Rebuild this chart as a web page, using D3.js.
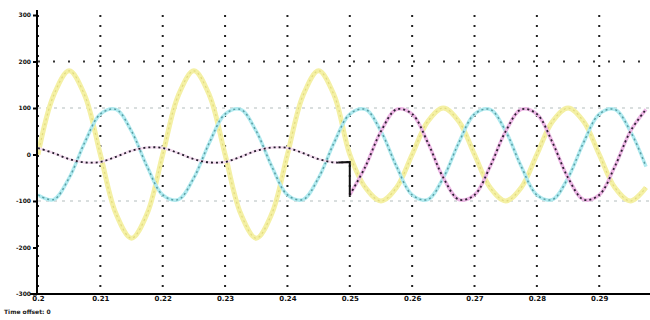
<!DOCTYPE html>
<html>
<head>
<meta charset="utf-8">
<script src="https://cdn.jsdelivr.net/npm/d3@7"></script>
<style>
  body { margin: 0; background: #fff; }
  svg { display: block; }
  .tick text { font-family: "DejaVu Sans", sans-serif; font-weight: bold; fill: #111; }
</style>
</head>
<body>
<div id="chart"></div>
<script>
// sample times (s)
const times = [0.2, 0.2025, 0.205, 0.2075, 0.21, 0.2125, 0.215, 0.2175, 0.22, 0.2225,
               0.225, 0.2275, 0.23, 0.2325, 0.235, 0.2375, 0.24, 0.2425, 0.245, 0.2475,
               0.25, 0.2525, 0.255, 0.2575, 0.26, 0.2625, 0.265, 0.2675, 0.27, 0.2725,
               0.275, 0.2775, 0.28, 0.2825, 0.285, 0.2875, 0.29, 0.2925, 0.295, 0.2975];

const yellow = [0, 127, 180, 127, 0, -127, -180, -127, 0, 127, 180, 127, 0, -127, -180, -127,
                0, 127, 180, 127, 0, -71, -100, -71, 0, 71, 100, 71, 0, -71, -100, -71,
                0, 71, 100, 71, 0, -71, -100, -71];
const cyan = [-87, -97, -50, 26, 87, 97, 50, -26, -87, -97, -50, 26, 87, 97, 50, -26,
              -87, -97, -50, 26, 87, 97, 50, -26, -87, -97, -50, 26, 87, 97, 50, -26,
              -87, -97, -50, 26, 87, 97, 50, -26];
// dark phase: small before the switch at 0.25 s, full after
const darkPre = [14, 3, -10, -17, -16, -5, 8, 15, 14, 3, -10, -17, -16, -5, 8, 15, 14, 3, -10, -17, -16];
const darkPost = [-87, -26, 50, 97, 87, 26, -50, -97, -87, -26, 50, 97, 87, 26, -50, -97, -87, -26, 50, 97];

const xTicks = [0.2, 0.21, 0.22, 0.23, 0.24, 0.25, 0.26, 0.27, 0.28, 0.29];
const xTickLabels = ["0.2", "0.21", "0.22", "0.23", "0.24", "0.25", "0.26", "0.27", "0.28", "0.29"];
const yTicks = [-300, -200, -100, 0, 100, 200, 300];
const yTickLabels = ["-300", "-200", "-100", "0", "100", "200", "300"];

const width = 650, height = 320;
const plotLeft = 38, plotRight = 646, plotTop = 15, plotBottom = 294;

const svg = d3.select("#chart")
  .append("svg")
    .attr("width", width)
    .attr("height", height);

svg.append("rect").attr("width", width).attr("height", height).attr("fill", "#fff");

const x = d3.scaleLinear().domain([0.2, 0.2975]).range([plotLeft, plotRight]);
const y = d3.scaleLinear().domain([-300, 300]).range([plotBottom, plotTop]);

svg.append("clipPath").attr("id", "plot")
  .append("rect").attr("x", plotLeft).attr("y", 0).attr("width", width - plotLeft).attr("height", plotBottom);

// grid
const grid = svg.append("g");
grid.selectAll("line.v")
  .data(xTicks)
  .join("line")
    .attr("class", "v")
    .attr("x1", d => x(d)).attr("x2", d => x(d))
    .attr("y1", plotTop).attr("y2", plotBottom)
    .attr("stroke", "#222").attr("stroke-width", 2)
    .attr("stroke-dasharray", "2,8");

grid.selectAll("line.h")
  .data([200, 100, -100])
  .join("line")
    .attr("class", "h")
    .attr("x1", plotLeft).attr("x2", width)
    .attr("y1", d => y(d)).attr("y2", d => y(d))
    .attr("stroke", d => d === 200 ? "#333" : "#cdd3d3")
    .attr("stroke-width", d => d === 200 ? 2 : 1.5)
    .attr("stroke-dasharray", d => d === 200 ? "2,13" : "3,5");

const line = d3.line()
  .x(d => x(d[0]))
  .y(d => y(d[1]))
  .curve(d3.curveCatmullRom);

const plot = svg.append("g").attr("clip-path", "url(#plot)");

function drawSeries(pts, halo, haloWidth, dots, dotWidth) {
  plot.append("path")
    .attr("d", line(pts))
    .attr("fill", "none")
    .attr("stroke", halo)
    .attr("stroke-width", haloWidth)
    .attr("stroke-linejoin", "round");
  plot.append("path")
    .attr("d", line(pts))
    .attr("fill", "none")
    .attr("stroke", dots)
    .attr("stroke-width", dotWidth)
    .attr("stroke-dasharray", "2,3");
}

const zipT = (vals, offset) => vals.map((v, i) => [times[i + offset], v]);

drawSeries(zipT(yellow, 0), "#f4f0a4", 5, "#e2da7e", 1.2);
drawSeries(zipT(cyan, 0), "#b0eaef", 3.5, "#5a9ea4", 1.5);
drawSeries(zipT(darkPre, 0), "#f3dcef", 2.5, "#221c2a", 1.8);
drawSeries(zipT(darkPost, 20), "#ecb6e4", 3.5, "#2a2030", 1.8);

// jump of the dark phase at the switch
const jumpT = times[20];
plot.append("path")
  .attr("d", d3.line()([[x(times[19]) + 4, y(darkPre[19])], [x(jumpT), y(darkPre[20])], [x(jumpT), y(darkPost[0])]]))
  .attr("fill", "none")
  .attr("stroke", "#111")
  .attr("stroke-width", 2);

// axes
svg.append("g")
    .attr("transform", `translate(0,${plotBottom})`)
    .call(d3.axisBottom(x).tickValues(xTicks).tickSize(0).tickPadding(2)
      .tickFormat((d, i) => xTickLabels[i]))
    .call(g => g.select(".domain").remove())
    .call(g => g.selectAll("text").attr("font-size", 7));

svg.append("line")
  .attr("x1", 30).attr("x2", width)
  .attr("y1", plotBottom).attr("y2", plotBottom)
  .attr("stroke", "#000").attr("stroke-width", 2);

svg.append("g")
    .attr("transform", `translate(${plotLeft - 1},0)`)
    .call(d3.axisLeft(y).tickValues(yTicks).tickSize(4).tickPadding(2)
      .tickFormat((d, i) => yTickLabels[i]))
    .call(g => g.select(".domain").remove())
    .call(g => g.selectAll("line").attr("stroke-width", 2))
    .call(g => g.selectAll("text").attr("font-size", 6));

svg.append("line")
  .attr("x1", plotLeft - 1).attr("x2", plotLeft - 1)
  .attr("y1", 10).attr("y2", plotBottom)
  .attr("stroke", "#000").attr("stroke-width", 2);

svg.append("text")
  .attr("x", 4).attr("y", 314)
  .attr("font-family", "DejaVu Sans, sans-serif")
  .attr("font-size", 6)
  .attr("font-weight", "bold")
  .attr("fill", "#222")
  .text("Time offset: 0");
</script>
</body>
</html>
